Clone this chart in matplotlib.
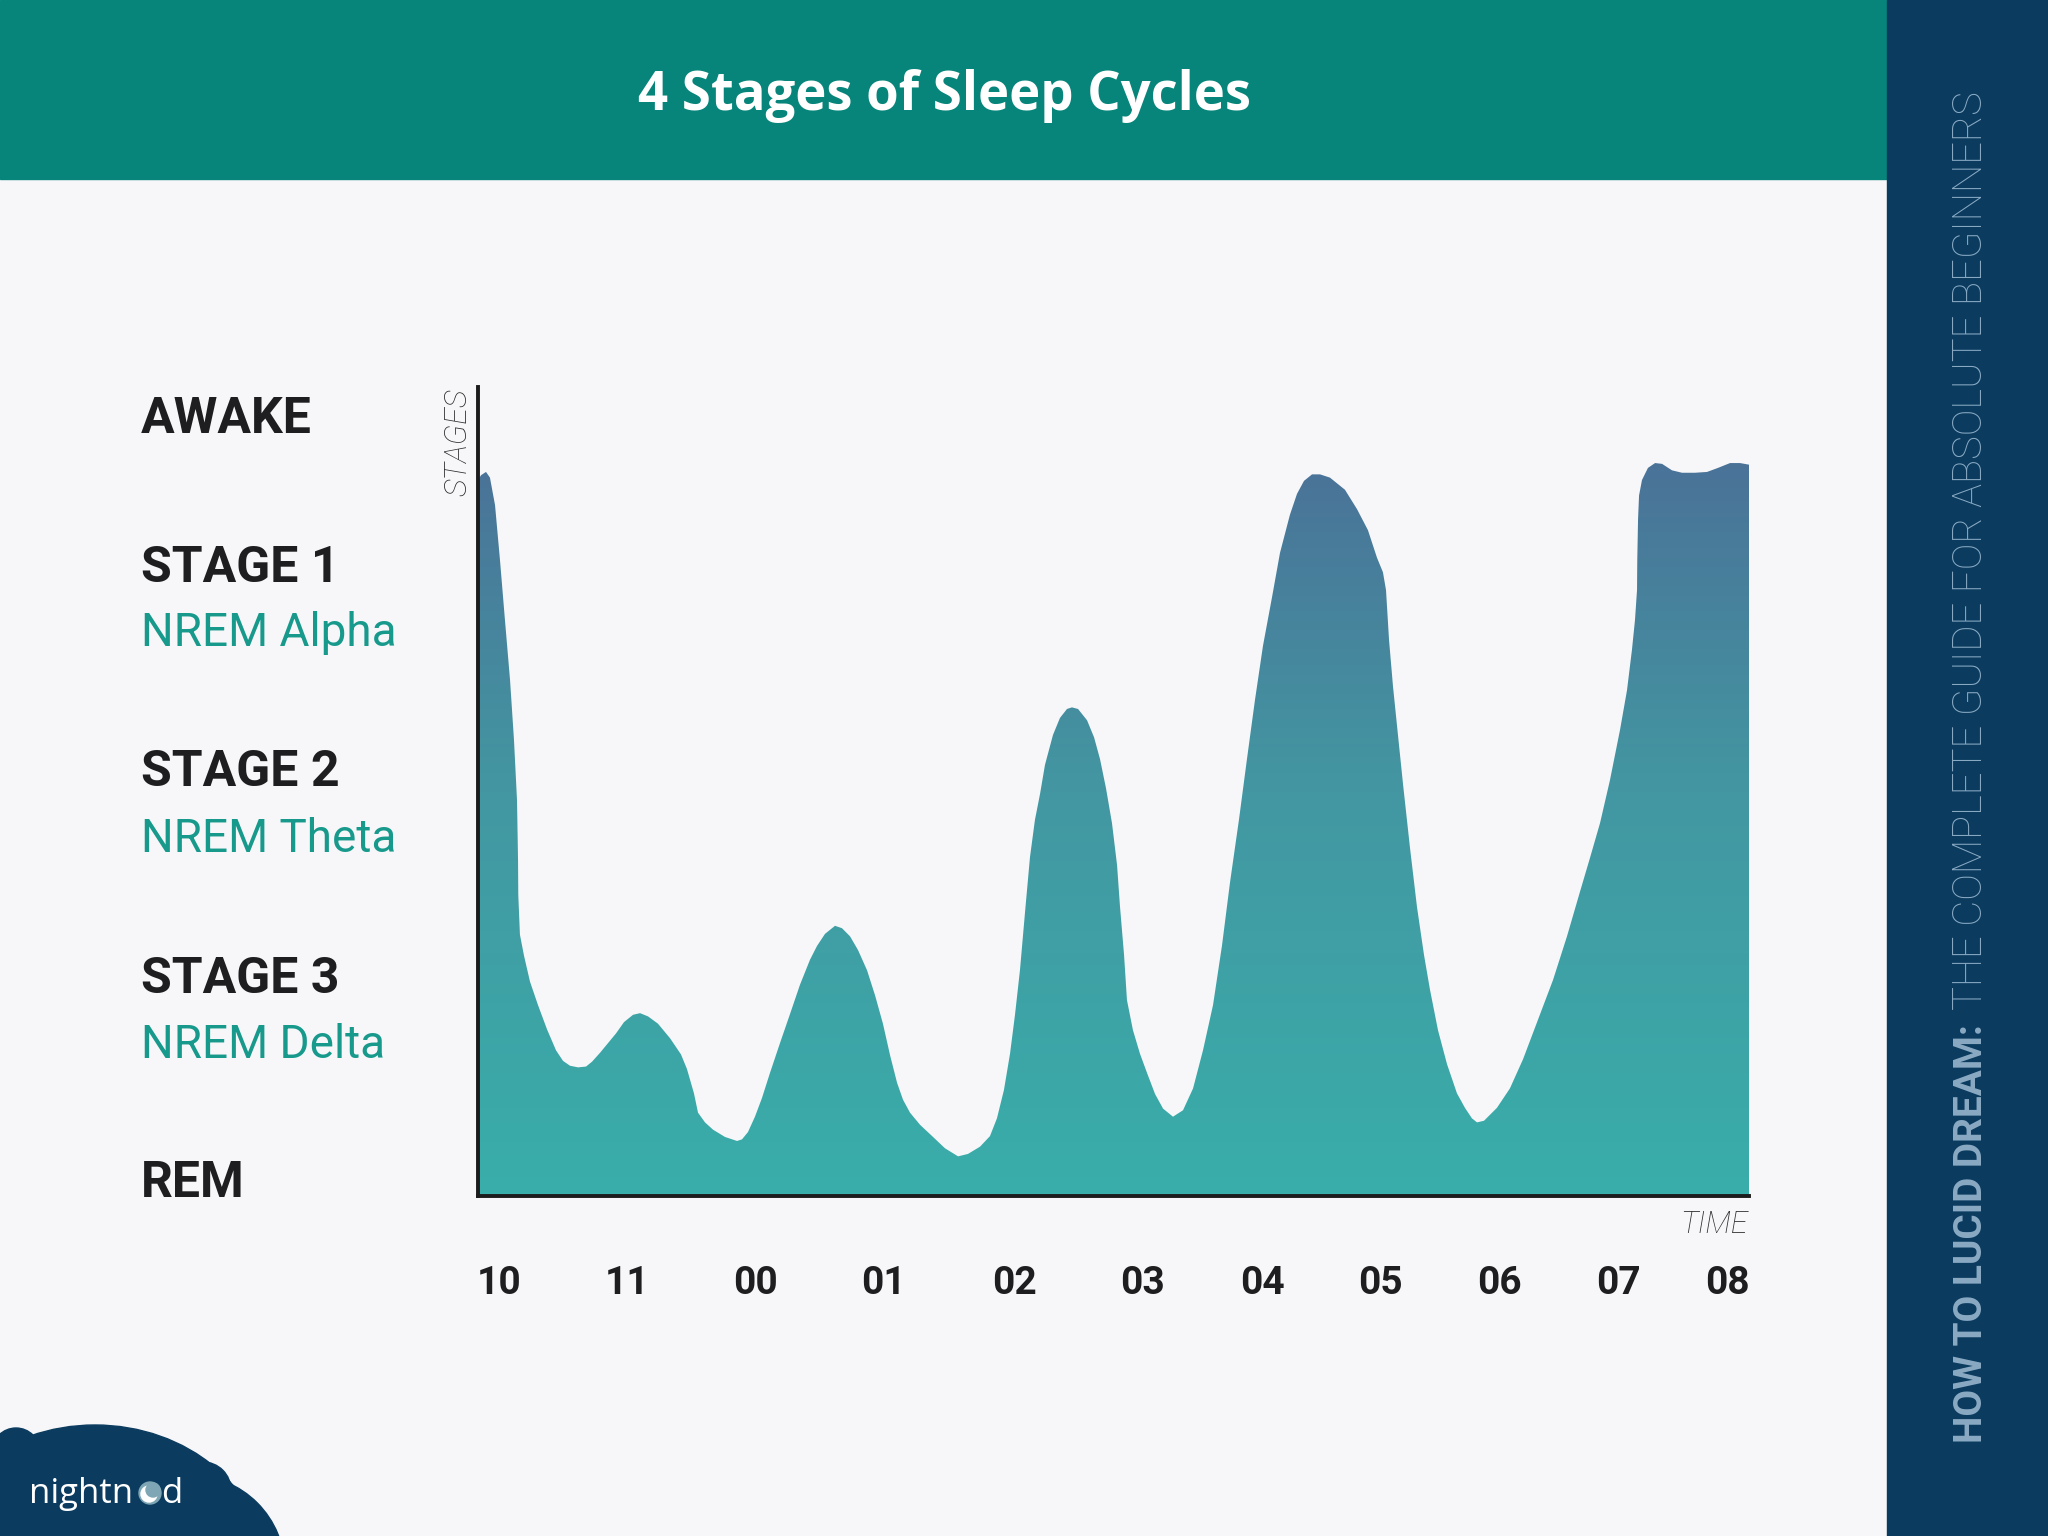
import numpy as np
import matplotlib
matplotlib.use("Agg")
import matplotlib.pyplot as plt
from matplotlib import font_manager as fm
from matplotlib.colors import LinearSegmentedColormap
from matplotlib.patches import Rectangle, Ellipse, Circle

# sleep depth curve: hours after 22:00 vs height above the REM baseline (0-100)
hours = [0.0, 0.024, 0.063, 0.094, 0.134, 0.173, 0.212, 0.252, 0.283, 0.307,
         0.315, 0.317, 0.330, 0.362, 0.409, 0.472, 0.543, 0.614, 0.669, 0.724,
         0.787, 0.850, 0.897, 0.960, 1.023, 1.086, 1.149, 1.220, 1.275, 1.338,
         1.416, 1.511, 1.597, 1.644, 1.699, 1.731, 1.786, 1.849, 1.943, 2.038,
         2.077, 2.124, 2.179, 2.234, 2.297, 2.376, 2.455, 2.533, 2.612, 2.667,
         2.730, 2.809, 2.864, 2.927, 2.990, 3.061, 3.124, 3.186, 3.242, 3.297,
         3.344, 3.399, 3.478, 3.580, 3.674, 3.777, 3.855, 3.950, 4.028, 4.083,
         4.138, 4.186, 4.225, 4.264, 4.304, 4.343, 4.382, 4.422, 4.461, 4.524,
         4.579, 4.634, 4.673, 4.721, 4.792, 4.847, 4.894, 4.941, 4.988, 5.028,
         5.051, 5.083, 5.106, 5.153, 5.208, 5.264, 5.327, 5.390, 5.468, 5.547,
         5.626, 5.704, 5.783, 5.854, 5.917, 5.987, 6.050, 6.113, 6.176, 6.247,
         6.310, 6.388, 6.444, 6.499, 6.562, 6.625, 6.703, 6.821, 6.916, 7.002,
         7.073, 7.120, 7.144, 7.168, 7.199, 7.238, 7.278, 7.333, 7.388, 7.443,
         7.490, 7.553, 7.624, 7.702, 7.765, 7.820, 7.860, 7.915, 8.017, 8.119,
         8.222, 8.340, 8.458, 8.568, 8.670, 8.749, 8.828, 8.906, 8.985, 9.040,
         9.079, 9.103, 9.119, 9.121, 9.127, 9.135, 9.158, 9.205, 9.261, 9.316,
         9.394, 9.473, 9.575, 9.670, 9.756, 9.851, 9.929, 10.0]
level = [88.5, 89.1, 89.5, 88.8, 85.4, 78.6, 71.2, 63.8, 56.4, 48.9,
         41.5, 37.2, 32.3, 29.7, 26.5, 23.6, 20.6, 18.0, 16.7, 16.1,
         15.9, 16.0, 16.6, 17.7, 18.9, 20.1, 21.5, 22.4, 22.6, 22.2,
         21.3, 19.5, 17.5, 15.7, 12.7, 10.3, 9.1, 8.2, 7.3, 6.8,
         7.0, 7.9, 9.8, 12.1, 15.2, 18.9, 22.5, 26.1, 29.2, 30.9,
         32.4, 33.4, 33.1, 32.1, 30.4, 27.9, 24.8, 21.3, 17.4, 14.0,
         11.9, 10.3, 8.8, 7.3, 5.9, 4.9, 5.2, 6.1, 7.4, 9.6,
         13.1, 17.6, 22.4, 27.9, 35.1, 41.9, 46.5, 49.7, 53.3, 57.0,
         59.1, 60.2, 60.4, 60.2, 58.8, 56.7, 54.0, 50.4, 46.1, 40.9,
         35.8, 29.8, 24.2, 20.5, 17.6, 15.2, 12.6, 10.8, 9.8, 10.6,
         13.3, 18.0, 23.6, 31.0, 38.8, 46.5, 54.0, 61.3, 68.0, 74.0,
         79.5, 84.2, 86.8, 88.4, 89.2, 89.2, 88.8, 87.3, 84.9, 82.3,
         78.9, 77.1, 74.9, 68.7, 63.0, 57.0, 50.9, 43.0, 35.7, 29.8,
         25.5, 20.5, 16.3, 12.7, 10.9, 9.6, 9.1, 9.3, 10.9, 13.3,
         16.9, 21.8, 26.7, 32.1, 37.6, 41.8, 46.1, 51.4, 57.6, 62.5,
         67.5, 71.2, 74.9, 78.6, 83.6, 86.6, 88.5, 90.0, 90.6, 90.5,
         89.7, 89.4, 89.4, 89.5, 90.0, 90.6, 90.6, 90.4]

tick_hours = [0.165, 1.172, 2.187, 3.194, 4.225, 5.232, 6.168, 7.097, 8.033, 8.969, 9.827]
tick_labels = ['10', '11', '00', '01', '02', '03', '04', '05', '06', '07', '08']

stage_names = ['AWAKE', 'STAGE 1', 'STAGE 2', 'STAGE 3', 'REM']
stage_waves = ['', 'NREM Alpha', 'NREM Theta', 'NREM Delta', '']

title = '4 Stages of Sleep Cycles'
side_bold = 'HOW TO LUCID DREAM:'
side_light = 'THE COMPLETE GUIDE FOR ABSOLUTE BEGINNERS'


def have(name):
    try:
        fm.findfont(fm.FontProperties(family=name), fallback_to_default=False)
        return True
    except ValueError:
        return False


narrow = 'Liberation Sans Narrow' if have('Liberation Sans Narrow') else 'Roboto'
title_font = 'Liberation Sans Narrow' if have('Liberation Sans Narrow') else 'Open Sans'

W, H = 2048, 1536
fig = plt.figure(figsize=(W / 100, H / 100), dpi=100, facecolor='#f7f7f9')
renderer = fig.canvas.get_renderer()


def fit(t, length, vertical=False):
    for _ in range(3):
        bb = t.get_window_extent(renderer)
        size = bb.height if vertical else bb.width
        t.set_fontsize(t.get_fontsize() * length / size)


# background layer in pixel coordinates (y down)
bg = fig.add_axes([0, 0, 1, 1])
bg.set_xlim(0, W)
bg.set_ylim(H, 0)
bg.axis('off')

bg.add_patch(Rectangle((0, 0), 1887, 179, color='#08857a', zorder=1))
bg.add_patch(Rectangle((1887, 0), W - 1887, H, color='#0b3c5f', zorder=2))

t = bg.text(944, 110, title, color='white', fontsize=36, fontweight='bold',
            family=title_font, ha='center', va='baseline', zorder=3)
fit(t, 614)

# sidebar text, read bottom to top
sb = bg.text(1990, 1443, side_bold, rotation=90, color='#8aaac4', fontsize=30,
             fontweight='bold', family=narrow, ha='right', va='bottom', zorder=3)
fit(sb, 418, vertical=True)
sl = bg.text(1990, 1010, side_light, rotation=90, color='#8aaac4', fontsize=30,
             fontweight='light', family=narrow, ha='right', va='bottom', zorder=3)
fit(sl, 918, vertical=True)

# stage labels on the left
name_base = [433, 582, 786, 993, 1197]
wave_base = [None, 646, 852, 1058, None]
for name, wave, yb, yw in zip(stage_names, stage_waves, name_base, wave_base):
    bg.text(141, yb, name, fontsize=36, fontweight='bold', family='Roboto',
            color='#1e1e20', ha='left', va='baseline')
    if wave:
        bg.text(141, yw, wave, fontsize=33, family='Roboto', color='#17998c',
                ha='left', va='baseline')

bg.text(472, 388, 'STAGES', rotation=90, fontsize=22, fontstyle='italic',
        fontweight='light', family='Roboto', color='#2a2a2a', ha='right', va='top')
bg.text(1748, 1233, 'TIME', fontsize=22, fontstyle='italic', fontweight='light',
        family='Roboto', color='#2a2a2a', ha='right', va='baseline')

# nightnod cloud logo
cloud = '#0b3c5f'
bg.add_patch(Ellipse((95, 1570), 340, 290, color=cloud, zorder=2))
bg.add_patch(Circle((16, 1452), 24, color=cloud, zorder=2))
bg.add_patch(Circle((203, 1490), 28, color=cloud, zorder=2))
bg.add_patch(Circle((190, 1570), 95, color=cloud, zorder=2))
lg = bg.text(29, 1503, 'nightn', color='white', fontsize=24, family='Open Sans',
             ha='left', va='baseline', zorder=3)
fit(lg, 104)
bg.add_patch(Circle((150, 1493), 11, color='#7ea6b4', zorder=3))
bg.add_patch(Circle((149, 1494), 8, color='white', zorder=4))
bg.add_patch(Circle((153, 1490), 7, color='#7ea6b4', zorder=5))
bg.text(161, 1503, 'd', color='white', fontsize=lg.get_fontsize(), family='Open Sans',
        ha='left', va='baseline', zorder=3)

# chart axes
x0, x1, y0, y1 = 478, 1749, 387, 1196
ax = fig.add_axes([x0 / W, (H - y1) / H, (x1 - x0) / W, (y1 - y0) / H])
ax.set_facecolor('none')

cmap = LinearSegmentedColormap.from_list(
    'sleep', [(0.0, '#39aeaa'), (0.5, '#4397a2'), (0.9, '#4a7398'), (1.0, '#4b6f95')])
grad = np.linspace(0, 1, 256).reshape(-1, 1)
im = ax.imshow(grad, extent=[0, 10, 0, 100], origin='lower', aspect='auto',
               cmap=cmap, zorder=1)
fb = ax.fill_between(hours, level, 0, facecolor='none', edgecolor='none')
im.set_clip_path(fb.get_paths()[0], transform=ax.transData)

ax.set_xlim(0, 10)
ax.set_ylim(0, 100)
for side in ['top', 'right']:
    ax.spines[side].set_visible(False)
for side in ['left', 'bottom']:
    ax.spines[side].set_linewidth(2.8)
    ax.spines[side].set_color('#1c1c1c')
    ax.spines[side].set_zorder(5)

ax.set_yticks([])
ax.set_xticks(tick_hours, tick_labels)
ax.tick_params(axis='x', length=0, pad=50)
for lab in ax.get_xticklabels():
    lab.set_fontfamily('Roboto')
    lab.set_fontweight('bold')
    lab.set_fontsize(28)
    lab.set_color('#1e1e20')

fig.savefig('out.png', dpi=100, facecolor=fig.get_facecolor())
